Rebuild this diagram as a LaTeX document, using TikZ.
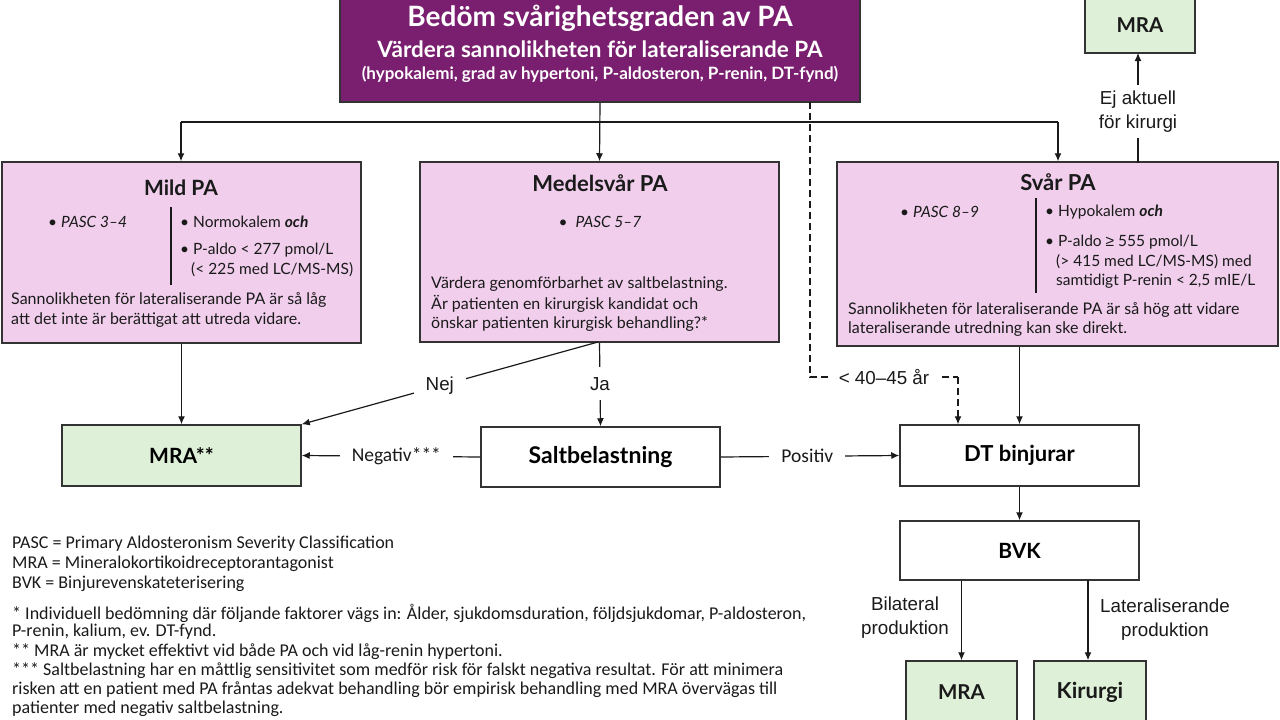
\documentclass[tikz,border=0pt]{standalone}
\usepackage{fontspec}
\setmainfont{Lato}
\newfontfamily\arialf{Liberation Sans}
\newfontfamily\narrowf{Carlito}
\usetikzlibrary{arrows.meta}
\definecolor{purp}{HTML}{7A1F6F}
\definecolor{pinkf}{HTML}{F0CEEC}
\definecolor{greenf}{HTML}{DFF0D8}
\definecolor{edge}{HTML}{333333}
\definecolor{txt}{HTML}{1A1A1A}
\tikzset{
  box/.style={draw=edge,line width=1.5pt,rectangle,inner sep=0pt},
  pinkbox/.style={box,fill=pinkf},
  greenbox/.style={box,fill=greenf},
  whitebox/.style={box,fill=white},
  btitle/.style={font=\fontsize{22}{26}\selectfont\bfseries,text=txt,inner sep=0pt},
  btxt/.style={font=\fontsize{16}{19}\selectfont,text=txt,inner sep=0pt,anchor=west},
  bsmall/.style={font=\fontsize{15.5}{18}\selectfont,text=txt,inner sep=0pt,anchor=west},
  arr/.style={line width=1.2pt,draw=txt,-{Latex[length=8pt,width=7pt]}},
  ln/.style={line width=1.2pt,draw=txt},
  alab/.style={font=\arialf\fontsize{18.8}{22}\selectfont,text=txt,fill=white,inner xsep=6pt,inner ysep=3pt},
  nlab/.style={font=\narrowf\fontsize{19.5}{22}\selectfont,text=txt,fill=white,inner xsep=12pt,inner ysep=3pt},
  foot/.style={font=\narrowf\fontsize{18}{20}\selectfont,text=txt,inner sep=0pt,anchor=west},
}
\begin{document}
\begin{tikzpicture}[x=1pt,y=-1pt]
\useasboundingbox (0,0) rectangle (1280,720);
\fill[white] (0,0) rectangle (1280,720);

% boxes
\node[box,fill=purp,minimum width=520pt,minimum height=106pt] (top) at (600,49) {};
\node[greenbox,minimum width=110pt,minimum height=57pt] (mra1) at (1140,24.5) {};
\node[pinkbox,minimum width=359pt,minimum height=181pt] (mild) at (181.5,252.5) {};
\node[pinkbox,minimum width=359pt,minimum height=180pt] (mid) at (599.5,252) {};
\node[pinkbox,minimum width=441pt,minimum height=184pt] (svar) at (1057.5,254) {};
\node[greenbox,minimum width=239pt,minimum height=61pt,font=\fontsize{21}{24}\selectfont\bfseries] (mra2) at (181.5,455.5) {MRA**};
\node[whitebox,minimum width=239pt,minimum height=60pt,font=\fontsize{23}{26}\selectfont\bfseries] (salt) at (600.5,457) {Saltbelastning};
\node[whitebox,minimum width=239pt,minimum height=61pt,font=\fontsize{22}{24}\selectfont\bfseries] (dt) at (1019.5,455.5) {DT binjurar};
\node[whitebox,minimum width=239pt,minimum height=59pt,font=\fontsize{21}{24}\selectfont\bfseries] (bvk) at (1019.5,550.5) {BVK};
\node[greenbox,minimum width=111pt,minimum height=66pt] (mra3) at (961.5,694) {};
\node[greenbox,minimum width=112pt,minimum height=66pt] (kir) at (1090,694) {};

% top box texts
\node[text=white,font=\fontsize{28}{32}\selectfont\bfseries,inner sep=0pt] (t1) at (600,18) {Bedöm svårighetsgraden av PA};
\node[text=white,font=\fontsize{22.5}{26}\selectfont\bfseries,inner sep=0pt] (t2) at (600,49) {Värdera sannolikheten för lateraliserande PA};
\node[text=white,font=\fontsize{17}{20}\selectfont\bfseries,inner sep=0pt] (t3) at (600,74) {(hypokalemi, grad av hypertoni, P-aldosteron, P-renin, DT-fynd)};
\node[btitle,font=\fontsize{20.5}{24}\selectfont\bfseries] (mra1t) at (1140,25) {MRA};
\node[btitle,font=\fontsize{20.5}{24}\selectfont\bfseries] (mra3t) at (961.5,692) {MRA};
\node[btitle,font=\fontsize{22}{26}\selectfont\bfseries] (kirt) at (1090,692) {Kirurgi};

% Mild PA
\node[btitle,font=\fontsize{21}{24}\selectfont\bfseries] (mildt) at (181,188) {Mild PA};
\node[bsmall] (m1) at (48,222) {• \itshape PASC 3–4};
\draw[line width=2pt,txt] (171,207) -- (171,285);
\node[bsmall] (m2) at (180,222) {• Normokalem \textbf{\textit{och}}};
\node[bsmall] (m3) at (180,250) {• P-aldo < 277 pmol/L};
\node[bsmall] (m4) at (191,270) {(< 225 med LC/MS-MS)};
\node[btxt] (m5) at (11,300) {Sannolikheten för lateraliserande PA är så låg};
\node[btxt] (m6) at (11,320) {att det inte är berättigat att utreda vidare.};

% Medelsvar PA
\node[btitle] (midt) at (600,183) {Medelsvår PA};
\node[bsmall,anchor=center] (d1t) at (600,222) {•\hspace{8pt}\itshape PASC 5–7};
\node[btxt] (d2t) at (431,284) {Värdera genomförbarhet av saltbelastning.};
\node[btxt] (d3t) at (431,304) {Är patienten en kirurgisk kandidat och};
\node[btxt] (d4t) at (431,324) {önskar patienten kirurgisk behandling?*};

% Svar PA
\node[btitle] (svart) at (1058,182) {Svår PA};
\node[bsmall] (s1) at (900,212) {• \itshape PASC 8–9};
\draw[line width=2pt,txt] (1036,198) -- (1036,293);
\node[bsmall] (s2) at (1045,212) {• Hypokalem \textbf{\textit{och}}};
\node[bsmall] (s3) at (1045,242) {• P-aldo {\arialf ≥} 555 pmol/L};
\node[bsmall] (s4) at (1056,262) {(> 415 med LC/MS-MS) med};
\node[bsmall] (s5) at (1056,281) {samtidigt P-renin < 2,5 mIE/L};
\node[btxt] (s6) at (848,310) {Sannolikheten för lateraliserande PA är så hög att vidare};
\node[btxt] (s7) at (848,329) {lateraliserande utredning kan ske direkt.};

% connectors from top
\coordinate (hl) at (181,122);
\coordinate (hr) at (1058,122);
\draw[ln] (hl) -- (hr);
\draw[arr] (hl) -- (mild.north -| hl);
\draw[arr] (hr) -- (svar.north -| hr);
\draw[arr] (top.south) -- (mid.north);

% dashed age path
\coordinate (a0) at (810,102);
\coordinate (a1) at (810,377);
\coordinate (a2) at (958,377);
\draw[ln,dash pattern=on 7pt off 4pt] (a0) -- (a1) -- node[alab,pos=0.5,inner xsep=9pt] (age) {< 40–45 år} (a2);
\draw[arr,dash pattern=on 7pt off 4pt] (a2) -- (a2 |- dt.north);

% Ej aktuell
\coordinate (ejb) at (1138,163);
\coordinate (ejt) at (1138,53);
\draw[arr] (ejb) -- node[alab,pos=0.47,align=center,inner ysep=6pt,font=\arialf\fontsize{18.8}{24}\selectfont] (ej) {Ej aktuell\\för kirurgi} (ejt);

% mild -> mra**
\draw[arr] (mild.south) -- (mra2.north);
% Nej / Ja
\coordinate (ms) at (598,342);
\draw[arr] (ms) -- node[alab,pos=0.534,inner xsep=12pt] (nej) {Nej} (mra2.north east);
\draw[arr] (mid.south) -- node[alab,pos=0.49,inner ysep=10pt] (ja) {Ja} (salt.north);
% salt
\draw[arr] (salt.west) -- node[nlab,pos=0.47] (neg) {Negativ***} (mra2.east);
\draw[arr] (salt.east) -- node[nlab,pos=0.485] (pos) {Positiv} (dt.west);
% svar -> dt
\draw[arr] (dt.north |- svar.south) -- (dt.north);
\draw[arr] (dt.south) -- (bvk.north);
% bvk -> mra, kirurgi
\draw[arr] (mra3.north |- bvk.south) -- (mra3.north);
\coordinate (kb) at (1088,580);
\draw[arr] (kb) -- (kb |- kir.north);
\node[alab,fill=none,align=center,inner sep=0pt,font=\arialf\fontsize{18.8}{24}\selectfont] (bil) at (905,618) {Bilateral\\produktion};
\node[alab,fill=none,align=center,inner sep=0pt,font=\arialf\fontsize{18.8}{24}\selectfont] (lat) at (1165,620) {Lateraliserande\\produktion};

% footnotes
\node[foot] (f1) at (12,544) {PASC = Primary Aldosteronism Severity Classification};
\node[foot] (f2) at (12,564) {MRA = Mineralokortikoidreceptorantagonist};
\node[foot] (f3) at (12,584) {BVK = Binjurevenskateterisering};
\node[foot] (f4) at (12,613) {* Individuell bedömning där följande faktorer vägs in: Ålder, sjukdomsduration, följdsjukdomar, P-aldosteron,};
\node[foot] (f5) at (12,632) {P-renin, kalium, ev. DT-fynd.};
\node[foot] (f6) at (12,652) {** MRA är mycket effektivt vid både PA och vid låg-renin hypertoni.};
\node[foot] (f7) at (12,671) {*** Saltbelastning har en måttlig sensitivitet som medför risk för falskt negativa resultat. För att minimera};
\node[foot] (f8) at (12,690) {risken att en patient med PA fråntas adekvat behandling bör empirisk behandling med MRA övervägas till};
\node[foot] (f9) at (12,709) {patienter med negativ saltbelastning.};
\end{tikzpicture}
\end{document}
